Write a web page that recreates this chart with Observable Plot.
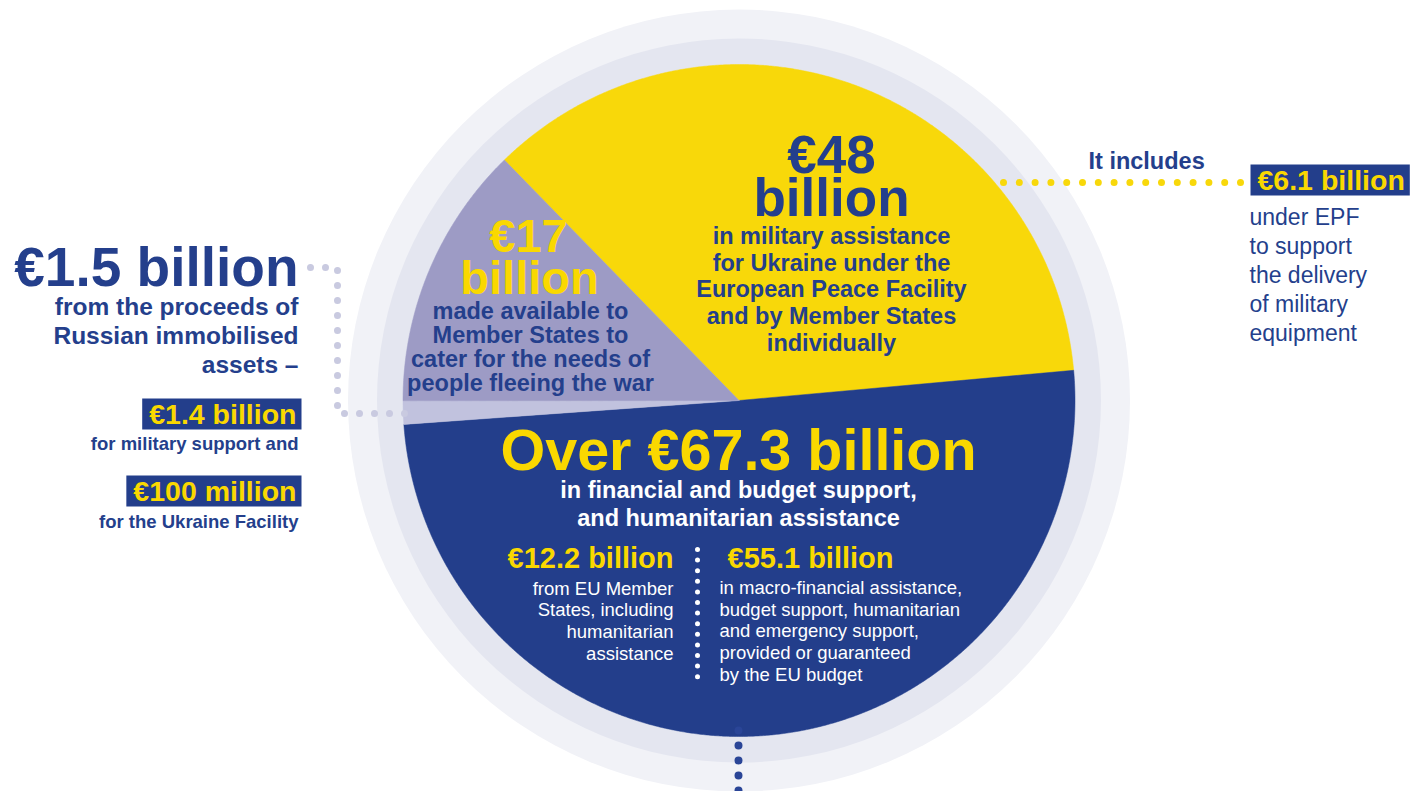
<!DOCTYPE html>
<html>
<head>
<meta charset="utf-8">
<script src="https://cdn.jsdelivr.net/npm/d3@7"></script>
<script src="https://cdn.jsdelivr.net/npm/@observablehq/plot@0.6"></script>
<style>
  html, body { margin: 0; padding: 0; background: #ffffff; }
  #chart { width: 1414px; height: 791px; overflow: hidden; }
</style>
</head>
<body>
<div id="chart"></div>
<script>
// ---------- data ----------
const sliceNames  = ["Military assistance", "Financial, budget and humanitarian support", "Proceeds of Russian immobilised assets", "People fleeing the war"];
const sliceValues = [48, 67.3, 1.5, 17];          // € billion
const sliceColors = ["#f8d80a", "#233e8b", "#c1c2de", "#9d9bc5"];
const financialSplitNames  = ["from EU Member States", "provided or guaranteed by the EU budget"];
const financialSplitValues = [12.2, 55.1];        // € billion
const assetsSplitNames  = ["military support", "Ukraine Facility"];
const assetsSplitValues = [1.4, 0.1];             // € billion
const epfValue = 6.1;                             // € billion

// ---------- layout ----------
const W = 1414, H = 791;
const cx = 738.5, cy = 400, R = 336;
const ring1 = 362, ring2 = 391;
const startDeg = -44.3;
const FONT = "Liberation Sans, Arial, Helvetica, sans-serif";
const BLUE = "#243f8c", YELLOW = "#fad800";

const pie = d3.pie().sort(null).value(d => d.value)
  .startAngle(startDeg * Math.PI / 180)
  .endAngle(startDeg * Math.PI / 180 + 2 * Math.PI);
const slices = pie(sliceNames.map((name, i) => ({name, value: sliceValues[i], color: sliceColors[i]})));

function slicePoly(a) {
  const pts = [{x: cx, y: cy}];
  const n = Math.max(2, Math.ceil((a.endAngle - a.startAngle) / 0.005));
  for (let k = 0; k <= n; k++) {
    const t = a.startAngle + (a.endAngle - a.startAngle) * k / n;
    pts.push({x: cx + R * Math.sin(t), y: cy - R * Math.cos(t)});
  }
  pts.push({x: cx, y: cy});
  return pts;
}

const fmtB = v => `€${v} billion`;
const fmtM = v => `€${Math.round(v * 1000)} million`;
const highlighted = new Set([fmtB(assetsSplitValues[0]), fmtM(assetsSplitValues[1]), fmtB(epfValue)]);

function txt(text, o) {
  return Plot.text([{x: o.x, y: o.y, t: text}], {
    x: "x", y: "y", text: "t",
    textAnchor: o.anchor || "middle", lineAnchor: "bottom",
    fontSize: o.size, lineHeight: o.lh || 1, fontWeight: o.weight || "bold",
    fontFamily: FONT, fill: o.fill || BLUE
  });
}
function dotted(points, o) {
  return Plot.line(points, {x: d => d[0], y: d => d[1], stroke: o.stroke, strokeWidth: o.w,
    strokeDasharray: `0 ${o.gap}`, strokeLinecap: "round", strokeLinejoin: "round", fill: "none"});
}

const marks = [
  // background rings
  Plot.dot([{x: cx, y: cy}], {x: "x", y: "y", r: ring2, fill: "#f1f2f7", stroke: "none"}),
  Plot.dot([{x: cx, y: cy}], {x: "x", y: "y", r: ring1, fill: "#e4e6f0", stroke: "none"}),
  // pie slices
  ...slices.map(s => Plot.line(slicePoly(s), {x: "x", y: "y", fill: s.data.color, stroke: s.data.color, strokeWidth: 0.5, curve: "linear"})),
  // connectors
  dotted([[310, 267], [337, 267], [337, 413], [412, 413]], {stroke: "#c9cae0", w: 7, gap: 15}),
  dotted([[1003, 182], [1242, 182]], {stroke: "#f8d80a", w: 7, gap: 15.8}),
  dotted([[697, 549], [697, 677]], {stroke: "#ffffff", w: 5, gap: 10.6}),
  dotted([[738, 730], [738, 800]], {stroke: "#2a4597", w: 8, gap: 15}),

  // military slice
  txt(`€${sliceValues[0]}`, {x: 831, y: 172, size: 53}),
  txt("billion", {x: 831, y: 215, size: 53}),
  txt("in military assistance\nfor Ukraine under the\nEuropean Peace Facility\nand by Member States\nindividually", {x: 831, y: 350, size: 23.5, lh: 1.128}),
  // fleeing slice
  txt(`€${sliceValues[3]}`, {x: 528, y: 251, size: 47, fill: YELLOW}),
  txt("billion", {x: 529, y: 293, size: 47, fill: YELLOW}),
  txt("made available to\nMember States to\ncater for the needs of\npeople fleeing the war", {x: 530, y: 390, size: 23.5, lh: 1.02}),
  // financial slice
  txt(`Over €${sliceValues[1]} billion`, {x: 738, y: 469, size: 57.5, fill: YELLOW}),
  txt("in financial and budget support,\nand humanitarian assistance", {x: 738, y: 525, size: 23.5, lh: 1.19, fill: "#ffffff"}),
  txt(fmtB(financialSplitValues[0]), {x: 673, y: 567, size: 29, anchor: "end", fill: YELLOW}),
  txt("from EU Member\nStates, including\nhumanitarian\nassistance", {x: 673, y: 659, size: 18.5, lh: 1.17, anchor: "end", fill: "#ffffff", weight: "normal"}),
  txt(fmtB(financialSplitValues[1]), {x: 727, y: 567, size: 29, anchor: "start", fill: YELLOW}),
  txt("in macro-financial assistance,\nbudget support, humanitarian\nand emergency support,\nprovided or guaranteed\nby the EU budget", {x: 719, y: 680, size: 18.5, lh: 1.165, anchor: "start", fill: "#ffffff", weight: "normal"}),

  // left annotation
  txt(fmtB(sliceValues[2]), {x: 298, y: 285, size: 55, anchor: "end"}),
  txt("from the proceeds of\nRussian immobilised\nassets –", {x: 298, y: 372, size: 24.5, lh: 1.18, anchor: "end"}),
  txt(fmtB(assetsSplitValues[0]), {x: 296, y: 423, size: 28.5, anchor: "end", fill: YELLOW}),
  txt("for military support and", {x: 298, y: 449, size: 18.5, anchor: "end"}),
  txt(fmtM(assetsSplitValues[1]), {x: 296, y: 500, size: 28.5, anchor: "end", fill: YELLOW}),
  txt("for the Ukraine Facility", {x: 298, y: 527, size: 18.5, anchor: "end"}),

  // right annotation
  txt("It includes", {x: 1088, y: 168, size: 23.5, anchor: "start"}),
  txt(fmtB(epfValue), {x: 1257, y: 189, size: 28.5, anchor: "start", fill: YELLOW}),
  txt("under EPF\nto support\nthe delivery\nof military\nequipment", {x: 1249, y: 340, size: 23, lh: 1.26, anchor: "start", weight: "normal"})
];

const svg = Plot.plot({
  width: W, height: H,
  margin: 0,
  x: {domain: [0, W], range: [0, W], axis: null},
  y: {domain: [0, H], range: [0, H], axis: null},
  style: {fontFamily: FONT, background: "#ffffff", overflow: "hidden"},
  marks
});
document.getElementById("chart").appendChild(svg);

// blue boxes behind highlighted figures
d3.select(svg).selectAll("text").each(function () {
  if (!highlighted.has(this.textContent)) return;
  const b = this.getBBox();
  const rect = d3.select(this.parentNode).insert("rect", () => this)
    .attr("x", b.x - 7).attr("y", b.y + 1)
    .attr("width", b.width + 12).attr("height", b.height - 1)
    .attr("fill", "#233e8b");
  const tr = this.getAttribute("transform");
  if (tr) rect.attr("transform", tr);
});
</script>
</body>
</html>
